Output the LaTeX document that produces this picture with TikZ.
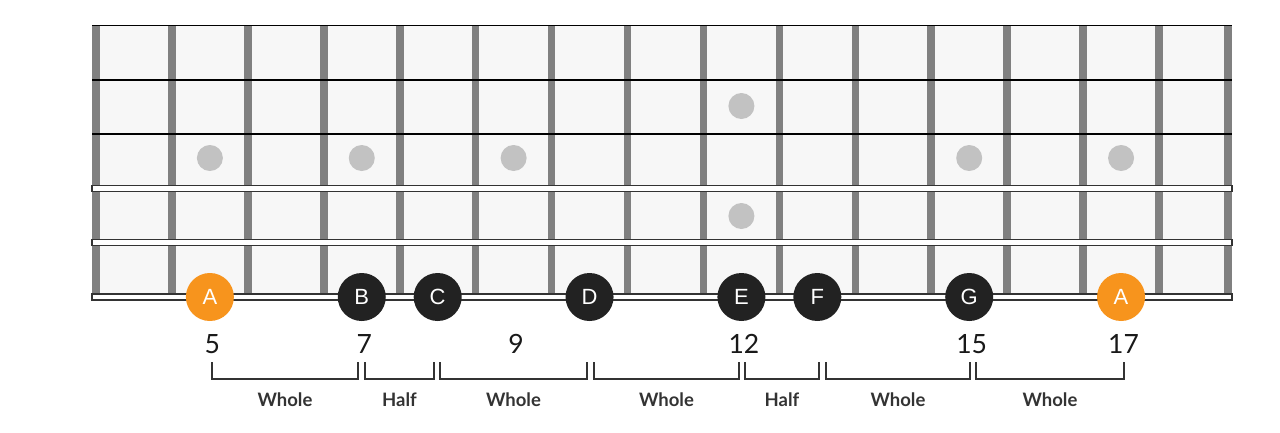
\documentclass[tikz,border=0pt]{standalone}
\usepackage{fontspec}
\setmainfont{Lato}
\newfontfamily\notefont{Liberation Sans}
\tikzset{
  notedot/.style = {circle, minimum size = 48, inner sep = 0, text = white, font = \notefont\fontsize{22}{26}\selectfont},
  fretnum/.style = {anchor = base, inner sep = 0, text = black!90, font = \fontsize{26.5}{30}\selectfont},
  interval/.style = {inner sep = 0, text = textcolor, font = \bfseries\fontsize{18.5}{22}\selectfont},
  bracket/.style = {draw = textcolor, line width = 1.8}
}
\begin{document}
\begin{tikzpicture}[x = 1pt, y = -1pt]
\pgfmathsetmacro\fretstep{75.93};
\pgfmathsetmacro\stringstep{54.3};
\definecolor{boardcolor}{HTML}{F7F7F7}
\definecolor{fretcolor}{HTML}{808080}
\definecolor{inlaycolor}{HTML}{C2C2C2}
\definecolor{rootcolor}{HTML}{F7941D}
\definecolor{notecolor}{HTML}{222222}
\definecolor{textcolor}{HTML}{333333}
\useasboundingbox (0,0) rectangle (1280,432);
\fill [boardcolor] (96,25.5) rectangle (1228,297);
\foreach \n in {0,...,14} \fill [fretcolor] (96+\fretstep*\n-3.8,25.5) rectangle (96+\fretstep*\n+3.8,297);
\fill [fretcolor] (1224,25.5) rectangle (1232,297);
\foreach \f/\y in {5/158,7/158,9/158,12/106,12/216,15/158,17/158} \fill [inlaycolor] (96+\fretstep*\f-\fretstep*3.5,\y) circle (13);
\foreach \s in {0,1,2} \draw [line width = 1.6] (92,25.5+\stringstep*\s) -- (1232,25.5+\stringstep*\s);
\foreach \s in {3,4,5} \draw [fill = white, draw = black!80, line width = 1.2] (92,25.5+\stringstep*\s-3) rectangle (1232,25.5+\stringstep*\s+3);
\foreach \f/\l/\c in {5/A/rootcolor,7/B/notecolor,8/C/notecolor,10/D/notecolor,12/E/notecolor,13/F/notecolor,15/G/notecolor,17/A/rootcolor}
  \node [notedot, fill = \c] (n\f) at (96+\fretstep*\f-\fretstep*3.5,297) {\l};
\foreach \f in {5,7,9,12,15,17} \node [fretnum] (f\f) at (98.5+\fretstep*\f-\fretstep*3.5,353) {\f};
\foreach \a/\b/\t in {212/358/Whole,365/434/Half,440/587/Whole,594/739/Whole,745/819/Half,826/970/Whole,976/1124/Whole} {
  \draw [bracket] (\a,362) -- (\a,379) -- (\b,379) -- (\b,362);
  \node [interval] (w\a) at ({(\a+\b)/2},400) {\t};
}
\end{tikzpicture}
\end{document}
